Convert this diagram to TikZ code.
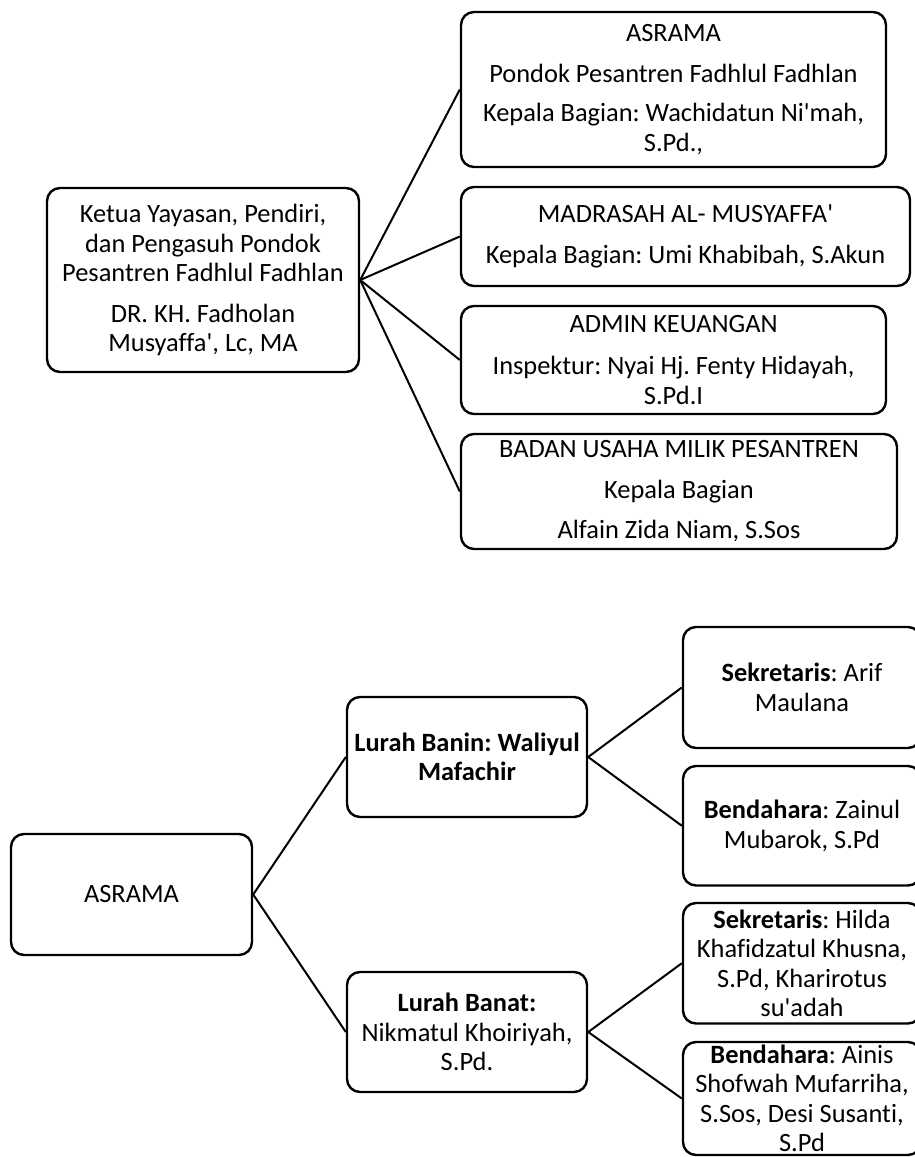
\documentclass[tikz,border=0pt]{standalone}
\usepackage{fontspec}
\newfontfamily\carl{Carlito}[Ligatures=CommonOff]
\begin{document}
\frenchspacing
\begin{tikzpicture}[x=1pt,y=-1pt,
  box/.style={draw, line width=2.4pt, rounded corners=13pt, align=center,
    inner sep=0pt, font=\carl\fontsize{26.4}{29.5}\selectfont\frenchspacing},
  link/.style={line width=2pt}]
\useasboundingbox (0,0) rectangle (915,1157);
\clip (0,0) rectangle (915,1157);
% ---- top chart ----
\node[box, minimum width=312pt, minimum height=184pt] (root) at (203,280)
  {Ketua Yayasan, Pendiri,\\ dan Pengasuh Pondok\\ Pesantren Fadhlul Fadhlan\\[11pt] DR. KH. Fadholan\\ Musyaffa', Lc, MA};
\node[box, minimum width=425pt, minimum height=155pt] (asr) at (673.5,89.5)
  {ASRAMA\\[11pt] Pondok Pesantren Fadhlul Fadhlan\\[10pt] Kepala Bagian: Wachidatun Ni'mah,\\ S.Pd.,};
\node[box, minimum width=449pt, minimum height=99pt] (mad) at (685.5,236.5)
  {MADRASAH AL- MUSYAFFA'\\[12pt] Kepala Bagian: Umi Khabibah, S.Akun};
\node[box, minimum width=425pt, minimum height=108pt] (adm) at (673.5,360)
  {ADMIN KEUANGAN\\[13pt] Inspektur: Nyai Hj. Fenty Hidayah,\\ S.Pd.I};
\node[box, minimum width=436pt, minimum height=115pt] (bad) at (679,491.5)
  {BADAN USAHA MILIK PESANTREN\\[11pt] Kepala Bagian\\[11pt] Alfain Zida Niam, S.Sos};
\draw[link] (root.east) -- (asr.west);
\draw[link] (root.east) -- (mad.west);
\draw[link] (root.east) -- (adm.west);
\draw[link] (root.east) -- (bad.west);
% ---- bottom chart ----
\node[box, minimum width=241pt, minimum height=121pt] (asr2) at (131.5,894.5) {ASRAMA};
\node[box, minimum width=240pt, minimum height=120pt] (banin) at (467,757)
  {\textbf{Lurah Banin: Waliyul}\\ \textbf{Mafachir}};
\node[box, minimum width=240pt, minimum height=120pt] (banat) at (467,1032)
  {\textbf{Lurah Banat:}\\ Nikmatul Khoiriyah,\\ S.Pd.};
\node[box, minimum width=238pt, minimum height=121pt] (sek1) at (802,687.5)
  {\textbf{Sekretaris}: Arif\\ Maulana};
\node[box, minimum width=238pt, minimum height=119.5pt] (ben1) at (802,825.75)
  {\textbf{Bendahara}: Zainul\\ Mubarok, S.Pd};
\node[box, minimum width=238pt, minimum height=120.5pt] (sek2) at (802,963.25)
  {\textbf{Sekretaris}: Hilda\\ Khafidzatul Khusna,\\ S.Pd, Kharirotus\\ su'adah};
\node[box, minimum width=238pt, minimum height=113pt] (ben2) at (802,1098.5)
  {\textbf{Bendahara}: Ainis\\ Shofwah Mufarriha,\\ S.Sos, Desi Susanti,\\ S.Pd};
\draw[link] (asr2.east) -- (banin.west);
\draw[link] (asr2.east) -- (banat.west);
\draw[link] (banin.east) -- (sek1.west);
\draw[link] (banin.east) -- (ben1.west);
\draw[link] (banat.east) -- (sek2.west);
\draw[link] (banat.east) -- (ben2.west);
\end{tikzpicture}
\end{document}
